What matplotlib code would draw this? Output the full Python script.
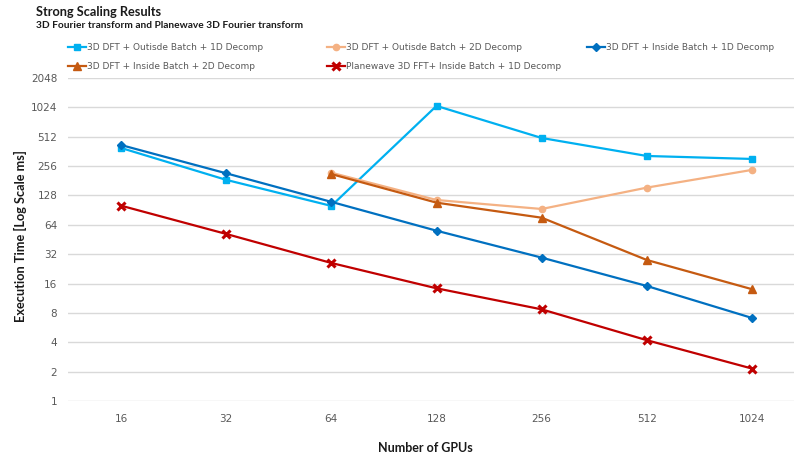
import matplotlib
matplotlib.use("Agg")
import matplotlib.pyplot as plt
import numpy as np

gpus = ["16", "32", "64", "128", "256", "512", "1024"]
y_ticks = [1, 2, 4, 8, 16, 32, 64, 128, 256, 512, 1024, 2048]

outside_1d = [393, 185, 100, 1060, 497, 325, 303]
inside_1d = [421, 216, 110, 55.7, 29.5, 15.1, 7.1]
outside_2d = [None, None, 219, 115, 93, 154, 234]
inside_2d = [None, None, 212, 108, 75.7, 27.9, 14.0]
planewave = [100.6, 51.6, 26, 14.3, 8.7, 4.2, 2.15]

labels = [
    "3D DFT + Outisde Batch + 1D Decomp",
    "3D DFT + Outisde Batch + 2D Decomp",
    "3D DFT + Inside Batch + 1D Decomp",
    "3D DFT + Inside Batch + 2D Decomp",
    "Planewave 3D FFT+ Inside Batch + 1D Decomp",
]

W, H = 794, 459
fig = plt.figure(figsize=(W / 100, H / 100), dpi=100)
left, right = 68.4, 804.6
top, bottom = 78, 401
ax = fig.add_axes([left / W, 1 - bottom / H, (right - left) / W, (bottom - top) / H])

x = np.arange(len(gpus))

def arr(v):
    return np.array([np.nan if a is None else a for a in v], dtype=float)

styles = [
    (outside_1d, "#00B0F0", "s", 4.5, 1, 0),
    (outside_2d, "#F4B183", "o", 4.5, 1, 1),
    (inside_1d, "#0070C0", "D", 4.5, 1, 2),
    (inside_2d, "#C55A11", "^", 5.5, 1, 3),
    (planewave, "#C00000", "x", 6, 2.2, 4),
]
handles = {}
for vals, col, mk, ms, mew, idx in styles:
    h, = ax.plot(x, arr(vals), color=col, marker=mk, markersize=ms, lw=1.6, mew=mew,
                 markeredgecolor=col, markerfacecolor=col, label=labels[idx], zorder=3)
    handles[idx] = h

ax.set_yscale("log", base=2)
ax.set_ylim(1, 2048)
ax.set_xlim(-0.5, len(gpus) - 0.5)
ax.set_yticks(y_ticks)
ax.set_yticklabels([str(t) for t in y_ticks])
ax.minorticks_off()
ax.set_xticks(x)
ax.set_xticklabels(gpus)
ax.grid(axis="y", color="#D9D9D9", lw=1)
ax.set_axisbelow(True)
for s in ax.spines.values():
    s.set_visible(False)
ax.tick_params(axis="both", length=0, colors="#595959", labelsize=7.5)
ax.tick_params(axis="y", pad=8)
ax.tick_params(axis="x", pad=9)

fig.text(36 / W, 1 - 12 / H, "Strong Scaling Results", fontsize=9.2, fontweight="bold",
         family="Lato", va="center", ha="left", color="#1a1a1a")
fig.text(36 / W, 1 - 25 / H, "3D Fourier transform and Planewave 3D Fourier transform",
         fontsize=7.3, fontweight="bold", family="Lato", va="center", ha="left", color="#1a1a1a")

fig.text(20 / W, 1 - 236 / H, "Execution Time [Log Scale ms]", rotation=90, fontsize=9.2,
         fontweight="bold", family="Lato", va="center", ha="center", color="#1a1a1a")
fig.text(425 / W, 1 - 448 / H, "Number of GPUs", fontsize=9, fontweight="bold",
         family="Lato", va="center", ha="center", color="#1a1a1a")

cols = [([0, 3], 68), ([1, 4], 327), ([2], 587)]
for idxs, px in cols:
    lg = fig.legend([handles[i] for i in idxs], [labels[i] for i in idxs],
                    loc="upper left", bbox_to_anchor=(px / W, 1 - 43 / H),
                    frameon=False, fontsize=6.5, handlelength=2.0, handletextpad=0.15,
                    borderpad=0, borderaxespad=0, labelspacing=1.1, labelcolor="#595959")

fig.savefig("out.png", dpi=100)
